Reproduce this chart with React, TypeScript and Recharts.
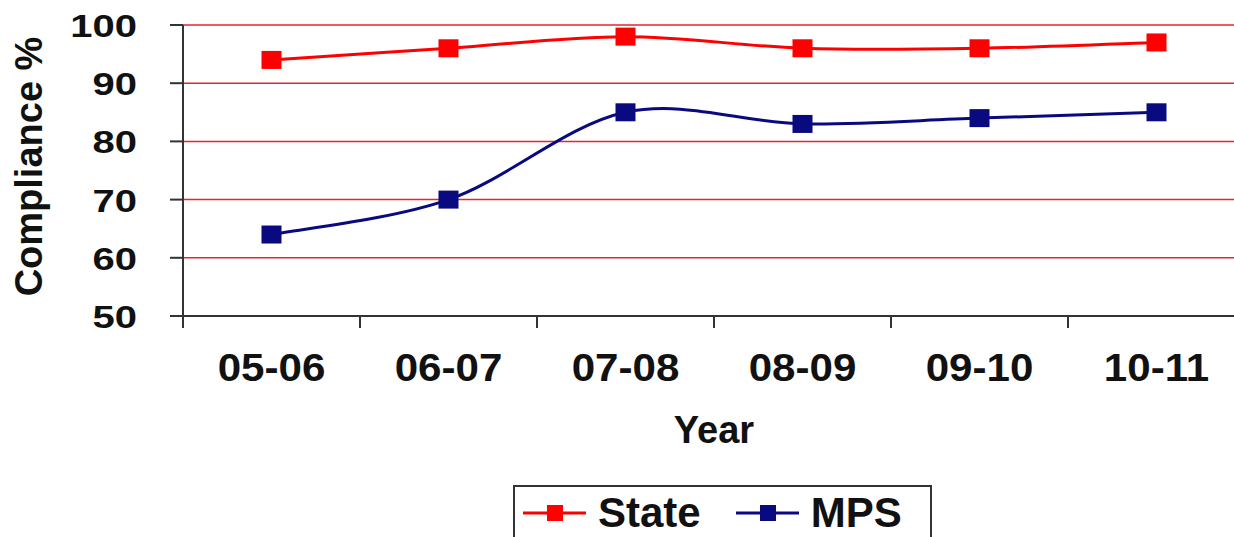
import React from 'react';
import {
  LineChart,
  Line,
  XAxis,
  YAxis,
  CartesianGrid,
  Legend,
} from 'recharts';

const years = ['05-06', '06-07', '07-08', '08-09', '09-10', '10-11'];
const stateValues = [94, 96, 98, 96, 96, 97];
const mpsValues = [64, 70, 85, 83, 84, 85];
const yTicks = [50, 60, 70, 80, 90, 100];
const seriesNames = ['State', 'MPS'];

const boundaryTicks = years.map((_, i) => i).concat(years.length);
const centerTicks = years.map((_, i) => i + 0.5);

const data = years.map((year, i) => ({
  x: i + 0.5,
  year,
  State: stateValues[i],
  MPS: mpsValues[i],
}));

const FONT = '"Liberation Sans", Arial, sans-serif';
const RED = '#ff0000';
const NAVY = '#0a0a80';
const AXIS = '#333';

// excel style smoothed line (catmull-rom through every point)
function excelSmooth(context: any) {
  let pts: number[][] = [];
  return {
    areaStart() {},
    areaEnd() {},
    lineStart() {
      pts = [];
    },
    point(x: number, y: number) {
      pts.push([+x, +y]);
    },
    lineEnd() {
      const n = pts.length;
      if (!n) return;
      context.moveTo(pts[0][0], pts[0][1]);
      for (let i = 0; i < n - 1; i++) {
        const p0 = pts[Math.max(i - 1, 0)];
        const p1 = pts[i];
        const p2 = pts[i + 1];
        const p3 = pts[Math.min(i + 2, n - 1)];
        context.bezierCurveTo(
          p1[0] + (p2[0] - p0[0]) / 6,
          p1[1] + (p2[1] - p0[1]) / 6,
          p2[0] - (p3[0] - p1[0]) / 6,
          p2[1] - (p3[1] - p1[1]) / 6,
          p2[0],
          p2[1]
        );
      }
    },
  };
}

const squareDot = (color: string) => (props: any) => {
  const { cx, cy, index } = props;
  if (cx == null || cy == null) return <g key={index} />;
  return <rect key={index} x={cx - 10} y={cy - 9} width={20} height={18} fill={color} />;
};

function EmptyTick() {
  return <g />;
}

function YTick({ x, y, payload }: any) {
  return (
    <g transform={`translate(${x},${y})`}>
      <text
        transform="scale(1.25,1)"
        textAnchor="end"
        dy={12}
        fontSize={32}
        fontWeight="bold"
        fontFamily={FONT}
        fill="#111"
      >
        {payload.value}
      </text>
    </g>
  );
}

function XTick({ x, y, payload }: any) {
  return (
    <g transform={`translate(${x},${y})`}>
      <text
        transform="scale(1.08,1)"
        textAnchor="middle"
        dy={53}
        fontSize={39}
        fontWeight="bold"
        fontFamily={FONT}
        fill="#111"
      >
        {years[Math.floor(payload.value)]}
      </text>
    </g>
  );
}

function YLabel({ viewBox }: any) {
  const cx = viewBox.x + 28;
  const cy = viewBox.y + viewBox.height / 2 - 4;
  return (
    <text
      x={cx}
      y={cy}
      transform={`rotate(-90 ${cx} ${cy})`}
      textAnchor="middle"
      dy="0.36em"
      fontSize={38}
      fontWeight="bold"
      fontFamily={FONT}
      fill="#111"
    >
      Compliance %
    </text>
  );
}

function LegendBox({ payload }: any) {
  const items = [...(payload || [])].sort(
    (a: any, b: any) => seriesNames.indexOf(a.value) - seriesNames.indexOf(b.value)
  );
  return (
    <div
      style={{
        boxSizing: 'border-box',
        width: 419,
        height: 60,
        border: `2px solid ${AXIS}`,
        display: 'flex',
        alignItems: 'flex-start',
        paddingLeft: 8,
        paddingTop: 6,
        fontFamily: FONT,
        fontWeight: 'bold',
        fontSize: 42,
        color: '#111',
      }}
    >
      {items.map((entry: any, i: number) => (
        <div
          key={entry.value}
          style={{ display: 'flex', alignItems: 'center', marginLeft: i === 0 ? 0 : 35, lineHeight: '40px' }}
        >
          <svg width={63} height={20} style={{ marginRight: 12 }}>
            <line x1={0} y1={10} x2={63} y2={10} stroke={entry.color} strokeWidth={3} />
            <rect x={24} y={2} width={16} height={16} fill={entry.color} />
          </svg>
          <span>{entry.value}</span>
        </div>
      ))}
    </div>
  );
}

export default function App() {
  return (
    <div
      style={{
        position: 'fixed',
        left: 0,
        top: 0,
        width: 1234,
        height: 537,
        overflow: 'hidden',
        background: '#fff',
      }}
    >
      <LineChart
        width={1260}
        height={537}
        data={data}
        margin={{ top: 25, right: 15, bottom: 79, left: 0 }}
      >
        <CartesianGrid horizontal vertical={false} stroke="#e3262e" strokeWidth={1.5} />
        <XAxis
          xAxisId="b"
          dataKey="x"
          type="number"
          domain={[0, years.length]}
          ticks={centerTicks}
          interval={0}
          tick={<XTick />}
          tickSize={0}
          tickMargin={0}
          height={130}
          axisLine={false}
          tickLine={false}
          label={{
            value: 'Year',
            position: 'insideBottom',
            offset: 15,
            fontSize: 38,
            fontWeight: 'bold',
            fontFamily: FONT,
            fill: '#111',
          }}
        />
        <XAxis
          xAxisId="a"
          dataKey="x"
          type="number"
          domain={[0, years.length]}
          ticks={boundaryTicks}
          interval={0}
          tick={<EmptyTick />}
          tickSize={12}
          height={12}
          axisLine={{ stroke: AXIS, strokeWidth: 2 }}
          tickLine={{ stroke: AXIS, strokeWidth: 2 }}
        />
        <YAxis
          type="number"
          domain={[50, 100]}
          ticks={yTicks}
          interval={0}
          width={183}
          tickSize={13}
          tickMargin={33}
          tick={<YTick />}
          axisLine={{ stroke: AXIS, strokeWidth: 2 }}
          tickLine={{ stroke: AXIS, strokeWidth: 2 }}
          label={<YLabel />}
        />
        <Legend
          layout="vertical"
          align="center"
          verticalAlign="middle"
          itemSorter={null as any}
          content={<LegendBox />}
          wrapperStyle={{ left: 513, top: 485, width: 419, height: 60 }}
        />
        <Line
          xAxisId="a"
          dataKey="State"
          name="State"
          type={excelSmooth as any}
          stroke={RED}
          strokeWidth={3}
          dot={squareDot(RED)}
          activeDot={false}
          isAnimationActive={false}
        />
        <Line
          xAxisId="a"
          dataKey="MPS"
          name="MPS"
          type={excelSmooth as any}
          stroke={NAVY}
          strokeWidth={3}
          dot={squareDot(NAVY)}
          activeDot={false}
          isAnimationActive={false}
        />
      </LineChart>
    </div>
  );
}
